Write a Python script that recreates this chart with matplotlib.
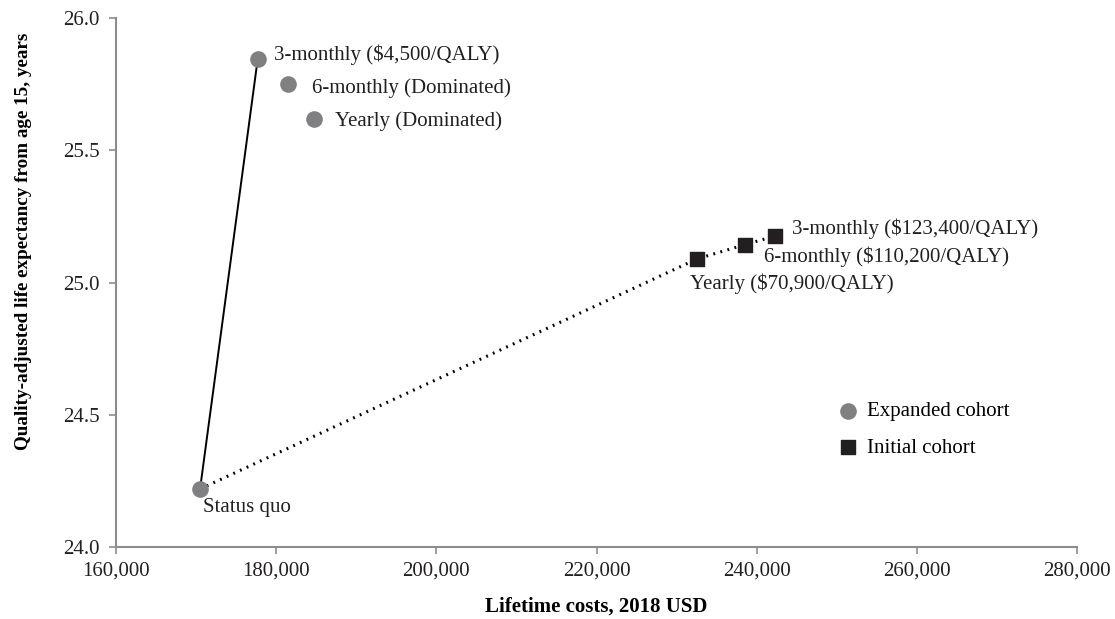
import matplotlib
matplotlib.use("Agg")
import matplotlib.pyplot as plt

plt.rcParams['font.family'] = ['Liberation Serif', 'DejaVu Serif']

# Expanded cohort (status quo + strategies)
exp_labels = ["Status quo", "3-monthly ($4,500/QALY)", "6-monthly (Dominated)", "Yearly (Dominated)"]
exp_cost = [170500, 177700, 181500, 184700]
exp_qale = [24.22, 25.845, 25.75, 25.62]

# Initial cohort strategies
init_labels = ["Yearly ($70,900/QALY)", "6-monthly ($110,200/QALY)", "3-monthly ($123,400/QALY)"]
init_cost = [232600, 238500, 242300]
init_qale = [25.09, 25.143, 25.176]

x_ticks = [160000, 180000, 200000, 220000, 240000, 260000, 280000]
y_ticks = [24.0, 24.5, 25.0, 25.5, 26.0]

GRAY = "#808083"
DARK = "#231f20"
SPINE = "#8c8c8c"

fig = plt.figure(figsize=(11.15, 6.19), dpi=100)
ax = fig.add_axes([0.104, 0.116, 0.862, 0.855])

# Frontier lines
ax.plot([exp_cost[0], exp_cost[1]], [exp_qale[0], exp_qale[1]], color="black", lw=1.4, zorder=2)
ax.plot([exp_cost[0]] + init_cost, [exp_qale[0]] + init_qale, color="black", lw=2.2,
        linestyle=(0, (0.6, 1.8)), zorder=2)

ax.scatter(exp_cost, exp_qale, s=120, marker="o", color=GRAY, zorder=3, label="Expanded cohort")
ax.scatter(init_cost, init_qale, s=90, marker="s", color=DARK, zorder=3, label="Initial cohort")

fs = 15
exp_offsets = [(2, -13), (11.5, 3), (17, -3), (15, -2)]
for lab, x, y, off in zip(exp_labels, exp_cost, exp_qale, exp_offsets):
    ax.annotate(lab, (x, y), xytext=off, textcoords="offset points",
                ha="left", va="center", fontsize=fs, color="#231f20")
init_offsets = [(-5, -18), (14, -9), (12, 5)]
for lab, x, y, off in zip(init_labels, init_cost, init_qale, init_offsets):
    ax.annotate(lab, (x, y), xytext=off, textcoords="offset points",
                ha="left", va="center", fontsize=fs, color="#231f20")

ax.set_xlim(160000, 280000)
ax.set_ylim(24.0, 26.0)
ax.set_xticks(x_ticks)
ax.set_xticklabels([f"{v:,}" for v in x_ticks])
ax.set_yticks(y_ticks)
ax.set_yticklabels([f"{v:.1f}" for v in y_ticks])
ax.tick_params(axis="both", labelsize=15, colors=SPINE, labelcolor="#231f20",
               length=5, width=1.2, direction="out")
ax.tick_params(axis="x", pad=5)
ax.tick_params(axis="y", pad=7)

for s in ["top", "right"]:
    ax.spines[s].set_visible(False)
for s in ["left", "bottom"]:
    ax.spines[s].set_color(SPINE)
    ax.spines[s].set_linewidth(1.5)

ax.set_xlabel("Lifetime costs, 2018 USD", fontsize=15, fontweight="bold", labelpad=12)
ax.set_ylabel("Quality-adjusted life expectancy from age 15, years", fontsize=13.8,
              fontweight="bold")
ax.yaxis.set_label_coords(-0.087, 0.578)

ax.legend(loc="upper left", bbox_to_anchor=(0.7315, 0.31), frameon=False, fontsize=15,
          handlelength=1.0, handletextpad=0.4, labelspacing=0.8, markerscale=1.0)

fig.savefig("out.png", dpi=100)
